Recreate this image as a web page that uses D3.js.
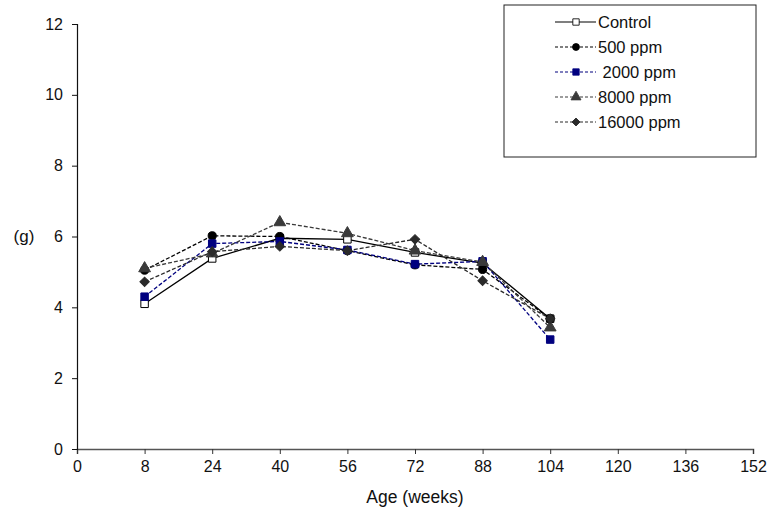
<!DOCTYPE html>
<html><head><meta charset="utf-8">
<script src="https://cdn.jsdelivr.net/npm/d3@7"></script>
<style>body{margin:0;background:#fff}svg{display:block;font-family:"Liberation Sans",Arial,sans-serif}</style>
</head><body><svg id="c" width="767" height="515"></svg>
<script>
const xTickLabels = ["0","8","24","40","56","72","88","104","120","136","152"];
const yTicks = [0,2,4,6,8,10,12];
const weeks = ["8","24","40","56","72","88","104"];
const control = [4.1, 5.38, 5.95, 5.92, 5.55, 5.25, 3.68];
const ppm500 = [5.05, 6.02, 6.0, 5.6, 5.2, 5.07, 3.68];
const ppm2000 = [4.3, 5.8, 5.86, 5.62, 5.22, 5.3, 3.09];
const ppm8000 = [5.1, 5.52, 6.4, 6.09, 5.6, 5.28, 3.43];
const ppm16000 = [4.72, 5.57, 5.72, 5.6, 5.92, 4.75, 3.68];
const seriesNames = ["Control","500 ppm"," 2000 ppm","8000 ppm","16000 ppm"];

const series = [
  {name: seriesNames[0], values: control, color:"#000", dash:null, sym:"square", fill:"#fff"},
  {name: seriesNames[1], values: ppm500, color:"#000", dash:"4,2", sym:"circle", fill:"#000"},
  {name: seriesNames[2], values: ppm2000, color:"#00007f", dash:"4,2", sym:"square", fill:"#00007f"},
  {name: seriesNames[3], values: ppm8000, color:"#3a3a3a", dash:"4,2", sym:"triangle", fill:"#3a3a3a"},
  {name: seriesNames[4], values: ppm16000, color:"#2a2a2a", dash:"4,2", sym:"diamond", fill:"#2a2a2a"}
];

const svg = d3.select("#c");
const x = d3.scalePoint().domain(xTickLabels).range([77,753]);
const y = d3.scaleLinear().domain([0,12]).range([449,24]);

// axes
const xa = svg.append("g").attr("transform","translate(0,449)")
  .call(d3.axisBottom(x).tickSize(5).tickPadding(7));
xa.select(".domain").attr("stroke","#555").attr("stroke-width",1.5);
xa.selectAll(".tick line").attr("stroke","#333");
xa.selectAll("text").attr("font-size",16).attr("fill","#111").attr("font-family","Liberation Sans, Arial, sans-serif");

const ya = svg.append("g").attr("transform","translate(77,0)")
  .call(d3.axisLeft(y).tickValues(yTicks).tickSize(5).tickPadding(9));
ya.select(".domain").attr("stroke","#111").attr("stroke-width",1.2);
ya.selectAll(".tick line").attr("stroke","#111");
ya.selectAll("text").attr("font-size",16).attr("fill","#111").attr("font-family","Liberation Sans, Arial, sans-serif");

svg.append("text").attr("x",415).attr("y",503).attr("text-anchor","middle")
  .attr("font-size",17.5).attr("fill","#111").text("Age (weeks)");
svg.append("text").attr("x",24).attr("y",242).attr("text-anchor","middle")
  .attr("font-size",17).attr("fill","#111").text("(g)");

function sym(t){
  const m = {square:d3.symbolSquare, circle:d3.symbolCircle, triangle:d3.symbolTriangle, diamond:d3.symbolSquare};
  const s = {square:56, circle:52, triangle:60, diamond:44};
  return d3.symbol().type(m[t]).size(s[t])();
}
function tr(t, px, py){ return `translate(${px},${py})` + (t==="diamond" ? " rotate(45)" : ""); }

const line = d3.line().x((d,i)=>x(weeks[i])).y(d=>y(d));
series.forEach(s=>{
  svg.append("path").datum(s.values).attr("d",line).attr("fill","none")
    .attr("stroke",s.color).attr("stroke-width",1.3).attr("stroke-dasharray",s.dash);
});
series.forEach(s=>{
  svg.append("g").selectAll("path").data(s.values).join("path")
    .attr("transform",(d,i)=>tr(s.sym, x(weeks[i]), y(d)))
    .attr("d",sym(s.sym)).attr("fill",s.fill).attr("stroke",s.color).attr("stroke-width",1);
});

// legend
const lg = svg.append("g");
lg.append("rect").attr("x",504).attr("y",5).attr("width",252).attr("height",152)
  .attr("fill","#fff").attr("stroke","#222").attr("stroke-width",1);
series.forEach((s,i)=>{
  const yy = 22 + i*25;
  lg.append("line").attr("x1",555).attr("x2",596).attr("y1",yy).attr("y2",yy)
    .attr("stroke",s.color).attr("stroke-width",1.2).attr("stroke-dasharray",s.dash ? "3,2" : null);
  lg.append("path").attr("d",sym(s.sym))
    .attr("transform", tr(s.sym,576,yy) + " scale(0.85)")
    .attr("fill",s.fill).attr("stroke",s.color).attr("stroke-width",1);
  lg.append("text").attr("x",598).attr("y",yy+6).attr("font-size",16.5).attr("fill","#111")
    .attr("xml:space","preserve").style("white-space","pre").text(s.name);
});
</script></body></html>
